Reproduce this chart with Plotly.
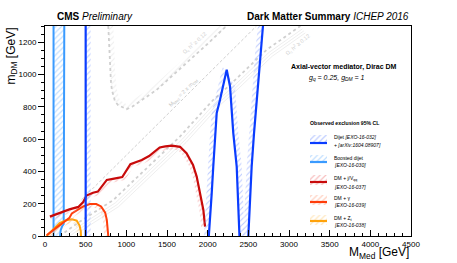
import numpy as np
import plotly.graph_objects as go

# ---------------- data (GeV) ----------------
dijet_low_x = [500, 500]
dijet_low_y = [0, 1300]
dijet_peak_x = [2014, 2020, 2050, 2069, 2090, 2111, 2152, 2234, 2275, 2315, 2357, 2377, 2391]
dijet_peak_y = [0, 37, 265, 430, 626, 761, 843, 1029, 926, 637, 430, 223, 0]
dijet_high_x = [2500, 2521, 2541, 2570, 2603, 2644, 2680]
dijet_high_y = [0, 223, 430, 637, 843, 1133, 1300]

boost_left_x = [105, 105]
boost_left_y = [0, 1300]
boost_right_x = [237, 237, 230, 213, 193, 185]
boost_right_y = [1300, 90, 74, 62, 37, 0]

met_x = [60, 180, 300, 410, 470, 510, 590, 650, 700, 760, 850, 950, 1050, 1100, 1190,
         1280, 1330, 1410, 1480, 1560, 1660, 1740, 1820, 1865, 1906, 1947, 1968]
met_y = [120, 145, 165, 180, 210, 250, 268, 275, 310, 347, 355, 365, 445, 455, 470,
         495, 515, 548, 555, 560, 552, 512, 440, 368, 265, 161, 58]

gam_x = [20, 80, 150, 230, 300, 330, 400, 470, 550, 630, 690, 740, 760, 772, 778]
gam_y = [5, 30, 55, 85, 112, 140, 160, 183, 198, 198, 183, 145, 100, 50, 0]

zll_x = [20, 60, 110, 180, 260, 330, 390, 425, 440, 443]
zll_y = [0, 20, 50, 80, 97, 103, 95, 65, 30, 0]

relic1_x = [778, 790, 799, 810, 822, 840, 861, 900, 943, 1004, 1070, 1168, 1373, 1578, 1783, 2000, 2230]
relic1_y = [1300, 1180, 1029, 960, 905, 865, 833, 810, 798, 785, 800, 835, 905, 998, 1091, 1190, 1300]

relic2_x = [180, 400, 840, 1250, 1660, 2069, 2275, 2726, 3140]
relic2_y = [0, 80, 223, 420, 616, 843, 936, 1153, 1300]

diag_x = [450, 2600]
diag_y = [225, 1300]

x_range = [0, 4500]
y_range = [0, 1300]

# ---------------- styling ----------------
C_DIJET = '#0a3cff'
C_BOOST = '#3a9bff'
C_MET = '#c80a0a'
C_GAM = '#ff3d0a'
C_ZLL = '#ffa20a'
C_GRAY = '#d0d0d0'
FONT = 'Liberation Sans'

W, H = 457, 263
ML, MR, MT, MB = 45, 46, 26, 27
PW, PH = W - ML - MR, H - MT - MB
SX = PW / (x_range[1] - x_range[0])
SY = PH / (y_range[1] - y_range[0])


def offset(x, y, d, side):
    x = np.asarray(x, float)
    y = np.asarray(y, float)
    px, py = x * SX, y * SY
    tx, ty = np.gradient(px), np.gradient(py)
    n = np.hypot(tx, ty)
    tx, ty = tx / n, ty / n
    nx, ny = -ty * side, tx * side
    return (px + nx * d) / SX, (py + ny * d) / SY


def band(x, y, d, side):
    ox, oy = offset(x, y, d, side)
    return list(x) + list(ox[::-1]), list(y) + list(oy[::-1])


fig = go.Figure()


def hatch(xs, ys, color, size=4, sol=0.28, xa='x', ya='y'):
    fig.add_trace(go.Scatter(x=xs, y=ys, mode='lines', fill='toself', line=dict(width=0),
                             fillcolor='rgba(0,0,0,0)',
                             fillpattern=dict(shape='/', fgcolor=color, bgcolor='rgba(0,0,0,0)',
                                              size=size, solidity=sol),
                             hoverinfo='skip', showlegend=False, xaxis=xa, yaxis=ya))


def line(x, y, color, width, dash='solid', xa='x', ya='y'):
    fig.add_trace(go.Scatter(x=x, y=y, mode='lines', line=dict(color=color, width=width, dash=dash),
                             hoverinfo='skip', showlegend=False, xaxis=xa, yaxis=ya))


# relic density curves
bx, by = band(relic1_x, relic1_y, 5, +1)
hatch(bx, by, '#dcdcdc', size=4, sol=0.25)
line(relic1_x, relic1_y, C_GRAY, 1.8, 'dot')
for dd in (3.5, 6, 8.5):
    ox, oy = offset(relic2_x, relic2_y, dd, -1)
    line(list(ox), list(oy), '#e6e6e6', 0.7)
line(relic2_x, relic2_y, C_GRAY, 1.8, 'dot')
line(diag_x, diag_y, '#d0d0d0', 1, '3px,2px')

# boosted dijet
hatch(list(boost_left_x) + list(boost_right_x), list(boost_left_y) + list(boost_right_y), '#86c0ff', 4, 0.3)
line(boost_left_x, boost_left_y, C_BOOST, 2)
line(boost_right_x, boost_right_y, C_BOOST, 2)

# DM + Z
bx, by = band(zll_x, zll_y, 4, -1)
hatch(bx, by, '#ffd080')
line(zll_x, zll_y, C_ZLL, 2)

# DM + gamma
bx, by = band(gam_x, gam_y, 4, -1)
hatch(bx, by, '#ffa080')
line(gam_x, gam_y, C_GAM, 2)

# DM + MET
bx, by = band(met_x, met_y, 4, -1)
hatch(bx, by, '#f08080')
line(met_x, met_y, C_MET, 2.2)

# Dijet
for (xx, yy, sd) in ((dijet_low_x, dijet_low_y, -1), (dijet_peak_x, dijet_peak_y, +1), (dijet_high_x, dijet_high_y, +1)):
    bx, by = band(xx, yy, 5, sd)
    hatch(bx, by, '#7f9bff')
    line(xx, yy, C_DIJET, 2.2)

# ---------------- legend swatches (pixel overlay axes) ----------------
rows = [(135, 144, 143, C_DIJET, '#7f9bff'),
        (155, 163, 162, C_BOOST, '#86c0ff'),
        (175, 185, 182, C_MET, '#f08080'),
        (195, 205, 202, C_GAM, '#ffa080'),
        (215, 225, 221, C_ZLL, '#ffd080')]
for (y0, y1, yl, c, hc) in rows:
    hatch([310, 327, 327, 310, 310], [y0, y0, y1, y1, y0], hc, 4, 0.3, 'x2', 'y2')
    line([310, 327], [yl, yl], c, 2.2, xa='x2', ya='y2')


def px2paper(px, py):
    return (px - ML) / PW, (H - MB - py) / PH


ann = []


def text(px, py, s, size, color='black', xanchor='left', angle=0, yanchor='middle'):
    xp, yp = px2paper(px, py)
    ann.append(dict(x=xp, y=yp, xref='paper', yref='paper', text=s, showarrow=False,
                    xanchor=xanchor, yanchor=yanchor, textangle=angle,
                    font=dict(family=FONT, size=size, color=color)))


text(55, 17, '<b>CMS</b> <i>Preliminary</i>', 10)
text(411, 17, '<b>Dark Matter Summary</b> <i>ICHEP 2016</i>', 10, xanchor='right')
text(344, 67, '<b>Axial-vector mediator, Dirac DM</b>', 7, xanchor='center')
text(337, 78, '<i>g<sub>q</sub> = 0.25, g<sub>DM</sub> = 1</i>', 7, xanchor='center')
text(345, 123, '<b>Observed exclusion 95% CL</b>', 5.2, xanchor='center')

leg = [(136.5, 'Dijet <i>[EXO-16-032]</i>'), (144.5, '<i>+ [arXiv:1604.08907]</i>'),
       (158, 'Boosted dijet'), (165, '<i>[EXO-16-030]</i>'),
       (178, 'DM + j/V<sub>qq</sub>'), (186.5, '<i>[EXO-16-037]</i>'),
       (198, 'DM + γ'), (205, '<i>[EXO-16-039]</i>'),
       (218, 'DM + Z<sub>ℓ</sub>'), (225, '<i>[EXO-16-038]</i>')]
for (py, s) in leg:
    text(331.5, py, s, 5)

# annotations along curves (data coords)
ann.append(dict(x=1700, y=890, xref='x', yref='y', text='M<sub>Med</sub> = 2 x m<sub>DM</sub>',
                showarrow=False, textangle=-45, font=dict(family=FONT, size=5.5, color='#c8c8c8')))
ann.append(dict(x=1850, y=1195, xref='x', yref='y', text='Ω<sub>c</sub> h<sup>2</sup> ≥ 0.12',
                showarrow=False, textangle=-42, font=dict(family=FONT, size=5.5, color='#d0d0d0')))
ann.append(dict(x=3110, y=1185, xref='x', yref='y', text='Ω<sub>c</sub> h<sup>2</sup> ≥ 0.12',
                showarrow=False, textangle=-40, font=dict(family=FONT, size=5.5, color='#d0d0d0')))

# axis titles
ann.append(dict(x=1, y=-(253 - (H - MB)) / PH, xref='paper', yref='paper', xanchor='right', yanchor='middle',
                text='M<sub>Med</sub> [GeV]', showarrow=False, font=dict(family=FONT, size=12, color='black')))
ann.append(dict(x=(11 - ML) / PW, y=1, xref='paper', yref='paper', xanchor='center', yanchor='top',
                text='m<sub>DM</sub> [GeV]', textangle=-90, showarrow=False,
                font=dict(family=FONT, size=12, color='black')))

fig.update_layout(
    width=W, height=H, margin=dict(l=ML, r=MR, t=MT, b=MB),
    plot_bgcolor='white', paper_bgcolor='white', showlegend=False,
    annotations=ann,
    xaxis=dict(range=x_range, dtick=500, ticks='inside', ticklen=6, tickwidth=1, tickcolor='black',
               minor=dict(dtick=100, ticklen=3, ticks='inside', tickcolor='black'),
               showgrid=False, zeroline=False, showline=True, linecolor='black', linewidth=1, mirror=True,
               ticklabeloverflow='allow', tickfont=dict(family=FONT, size=8, color='black')),
    yaxis=dict(range=y_range, dtick=200, ticks='outside', ticklen=6, tickwidth=1, tickcolor='black',
               minor=dict(dtick=50, ticklen=3, ticks='outside', tickcolor='black'),
               showgrid=False, zeroline=False, showline=True, linecolor='black', linewidth=1, mirror=True,
               ticklabeloverflow='allow', tickfont=dict(family=FONT, size=8, color='black')),
    xaxis2=dict(overlaying='x', range=[ML, W - MR], visible=False, fixedrange=True),
    yaxis2=dict(overlaying='y', range=[H - MB, MT], visible=False, fixedrange=True),
)

post = ("document.body.style.margin='0';document.body.style.overflow='hidden';"
        "var gd=document.getElementById('{plot_id}');Plotly.relayout(gd,{'xaxis.tickfont.size':8});")
fig.write_html('out.html', config={'displayModeBar': False, 'staticPlot': True}, post_script=post)
